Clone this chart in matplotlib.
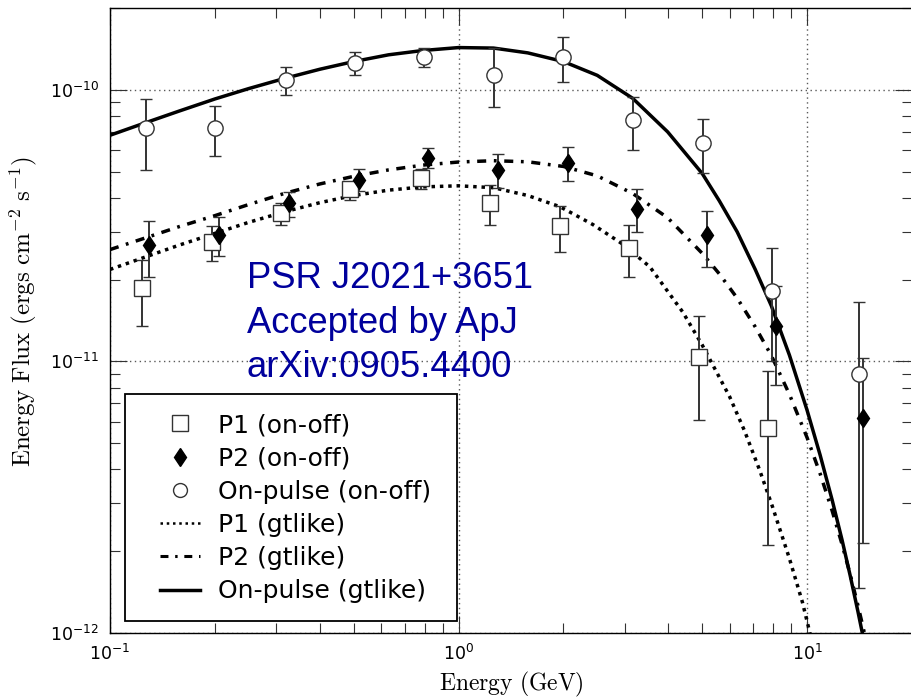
import matplotlib
matplotlib.use("Agg")
import matplotlib.pyplot as plt
from matplotlib.lines import Line2D
from matplotlib.patches import Rectangle
import numpy as np

plt.rcParams['axes.unicode_minus'] = False
plt.rcParams['font.family'] = ['DejaVu Sans']

# ---------------- data ----------------
# P1 (on-off) squares
p1_E = [0.1235, 0.1960, 0.3088, 0.4898, 0.7821, 1.232, 1.955, 3.079, 4.886, 7.748]
p1_F = [1.867e-11, 2.757e-11, 3.526e-11, 4.321e-11, 4.744e-11, 3.837e-11, 3.158e-11, 2.620e-11, 1.041e-11, 5.702e-12]
p1_lo = [1.353e-11, 2.347e-11, 3.185e-11, 3.936e-11, 4.321e-11, 3.185e-11, 2.533e-11, 2.050e-11, 6.101e-12, 2.116e-12]
p1_hi = [2.367e-11, 3.158e-11, 3.837e-11, 4.585e-11, 5.119e-11, 4.470e-11, 3.741e-11, 3.185e-11, 1.473e-11, 9.243e-12]

# P2 (on-off) diamonds
p2_E = [0.1294, 0.2052, 0.3256, 0.5164, 0.8190, 1.299, 2.061, 3.246, 5.150, 8.167, 14.49]
p2_F = [2.688e-11, 2.926e-11, 3.837e-11, 4.664e-11, 5.619e-11, 5.076e-11, 5.387e-11, 3.648e-11, 2.926e-11, 1.353e-11, 6.205e-12]
p2_lo = [2.050e-11, 2.449e-11, 3.408e-11, 4.248e-11, 5.163e-11, 4.358e-11, 4.624e-11, 3.001e-11, 2.231e-11, 8.203e-12, 2.152e-12]
p2_hi = [3.295e-11, 3.408e-11, 4.213e-11, 5.119e-11, 6.117e-11, 5.813e-11, 6.169e-11, 4.321e-11, 3.586e-11, 1.899e-11, 1.032e-11]

# On-pulse (on-off) circles
on_E = [0.1269, 0.1999, 0.3192, 0.5030, 0.7977, 1.265, 1.994, 3.162, 5.015, 7.955, 14.11]
on_F = [7.245e-11, 7.245e-11, 1.088e-10, 1.257e-10, 1.323e-10, 1.136e-10, 1.323e-10, 7.754e-11, 6.381e-11, 1.821e-11, 9.01e-12]
on_lo = [5.08e-11, 5.72e-11, 9.59e-11, 1.136e-10, 1.215e-10, 8.66e-11, 1.070e-10, 6.01e-11, 4.95e-11, 1.006e-11, 1.47e-12]
on_hi = [9.27e-11, 8.73e-11, 1.215e-10, 1.380e-10, 1.428e-10, 1.428e-10, 1.567e-10, 9.42e-11, 7.82e-11, 2.62e-11, 1.658e-11]

# gtlike model curves
p1_fit_E = [0.1, 0.126, 0.158, 0.2, 0.25, 0.316, 0.4, 0.5, 0.63, 0.79, 1.0, 1.26, 1.58, 1.955,
            2.429, 2.961, 3.538, 4.397, 5.0, 5.993, 6.615, 7.303, 7.955, 8.899, 9.694, 10.15, 10.4]
p1_fit_F = [2.18e-11, 2.42e-11, 2.68e-11, 2.96e-11, 3.25e-11, 3.55e-11, 3.84e-11, 4.08e-11, 4.27e-11,
            4.39e-11, 4.43e-11, 4.36e-11, 4.08e-11, 3.71e-11, 3.19e-11, 2.70e-11, 2.23e-11, 1.52e-11,
            1.15e-11, 7.42e-12, 5.55e-12, 3.99e-12, 2.92e-12, 1.88e-12, 1.30e-12, 1.02e-12, 8.8e-13]

p2_fit_E = [0.1, 0.126, 0.158, 0.2, 0.25, 0.316, 0.4, 0.5, 0.63, 0.79, 1.0, 1.26, 1.58, 2.0, 2.5,
            3.16, 3.98, 5.0, 5.6, 6.3, 7.1, 7.9, 8.9, 10.0, 10.9, 11.8, 12.6, 13.3, 14.0, 14.5, 14.8]
p2_fit_F = [2.58e-11, 2.845e-11, 3.135e-11, 3.44e-11, 3.78e-11, 4.15e-11, 4.50e-11, 4.80e-11, 5.07e-11,
            5.28e-11, 5.42e-11, 5.48e-11, 5.43e-11, 5.22e-11, 4.82e-11, 4.15e-11, 3.38e-11, 2.50e-11,
            2.10e-11, 1.71e-11, 1.34e-11, 1.05e-11, 7.56e-12, 5.24e-12, 3.86e-12, 2.82e-12, 2.12e-12,
            1.64e-12, 1.26e-12, 1.04e-12, 9.2e-13]

on_fit_E = [0.1, 0.126, 0.158, 0.2, 0.25, 0.316, 0.4, 0.5, 0.63, 0.79, 1.0, 1.26, 1.58, 2.0, 2.5,
            3.16, 3.98, 5.0, 5.6, 6.3, 7.1, 7.9, 8.9, 10.0, 10.9, 11.8, 12.6, 13.3, 14.0, 14.5]
on_fit_F = [6.80e-11, 7.55e-11, 8.35e-11, 9.25e-11, 1.01e-10, 1.10e-10, 1.19e-10, 1.27e-10, 1.345e-10,
            1.395e-10, 1.43e-10, 1.424e-10, 1.367e-10, 1.27e-10, 1.13e-10, 9.3e-11, 7.0e-11, 4.92e-11,
            3.90e-11, 3.0e-11, 2.18e-11, 1.60e-11, 1.054e-11, 6.61e-12, 4.52e-12, 3.09e-12, 2.20e-12,
            1.623e-12, 1.196e-12, 9.6e-13]

legend_labels = ["P1 (on-off)", "P2 (on-off)", "On-pulse (on-off)",
                 "P1 (gtlike)", "P2 (gtlike)", "On-pulse (gtlike)"]
annotation = "PSR J2021+3651\nAccepted by ApJ\narXiv:0905.4400"

# ---------------- figure ----------------
W, H = 911, 700
fig = plt.figure(figsize=(W / 100, H / 100), dpi=100)
ax = fig.add_axes([110 / W, 67 / H, 802 / W, 625 / H])
ax.set_xscale('log')
ax.set_yscale('log')
ax.set_xlim(0.1, 20)
ax.set_ylim(1e-12, 2e-10)

ax.grid(True, which='major', linestyle=(0, (1, 2.5)), color='0.35', lw=1.0)

dotted = (0, (1, 1.4))
dashdot = (0, (2.6, 2.2, 0.8, 2.2))
ax.plot(p1_fit_E, p1_fit_F, color='black', lw=2.5, ls=dotted, zorder=2)
ax.plot(p2_fit_E, p2_fit_F, color='black', lw=2.5, ls=dashdot, zorder=2)
ax.plot(on_fit_E, on_fit_F, color='black', lw=2.5, ls='-', zorder=2)

ec = '0.2'
def eb(E, F, lo, hi, **kw):
    E = np.array(E); F = np.array(F); lo = np.array(lo); hi = np.array(hi)
    ax.errorbar(E, F, yerr=[F - lo, hi - F], ls='none', ecolor=ec, elinewidth=1.4,
                capsize=4.5, capthick=1.4, zorder=3, **kw)

eb(p1_E, p1_F, p1_lo, p1_hi, marker='s', ms=11, mfc='white', mec=ec, mew=1.0)
eb(on_E, on_F, on_lo, on_hi, marker='o', ms=11, mfc='white', mec=ec, mew=1.0)
eb(p2_E, p2_F, p2_lo, p2_hi, marker='d', ms=9.5, mfc='black', mec='black', mew=1.0)

for s in ax.spines.values():
    s.set_linewidth(1.0)
ax.tick_params(which='both', direction='in', top=True, right=True, color='0.2')
ax.tick_params(which='major', length=12, width=0.8, labelsize=12.5, pad=8)
ax.tick_params(which='minor', length=7.5, width=0.8)

ax.set_xlabel(r'$\mathrm{Energy\ (GeV)}$', fontsize=17, math_fontfamily='cm', labelpad=4)
ax.set_ylabel(r'$\mathrm{Energy\ Flux\ (ergs\ cm^{-2}\ s^{-1})}$', fontsize=18,
              math_fontfamily='cm')
ax.yaxis.set_label_coords(-0.088, 0.515)

ax.text(247 / W, 1 - 261 / H, annotation, transform=fig.transFigure, ha='left', va='top',
        color='#00009C', fontsize=26.2, family='Liberation Sans', linespacing=1.36, zorder=6)

# legend with a hand-placed frame
handles = [
    Line2D([], [], marker='s', ls='none', ms=11, mfc='white', mec=ec, mew=1.0),
    Line2D([], [], marker='d', ls='none', ms=9.5, mfc='black', mec='black'),
    Line2D([], [], marker='o', ls='none', ms=10, mfc='white', mec=ec, mew=1.0),
    Line2D([], [], color='black', lw=1.8, ls=(0, (1, 1.5))),
    Line2D([], [], color='black', lw=2.2, ls=(0, (2.6, 2.2, 0.8, 2.2))),
    Line2D([], [], color='black', lw=2.5, ls='-'),
]
frame = Rectangle((125 / W, 1 - 621 / H), 332 / W, 227 / H, transform=fig.transFigure,
                  facecolor='white', edgecolor='black', lw=1.3, zorder=4, clip_on=False)
ax.add_patch(frame)
leg = ax.legend(handles, legend_labels, loc='upper left', bbox_to_anchor=(160 / W, 1 - 413 / H),
                bbox_transform=fig.transFigure, frameon=False, fontsize=18, borderpad=0,
                handlelength=1.6, handletextpad=0.7, labelspacing=0.37, numpoints=1,
                borderaxespad=0)
leg.set_zorder(5)

fig.savefig('out.png', dpi=100)
